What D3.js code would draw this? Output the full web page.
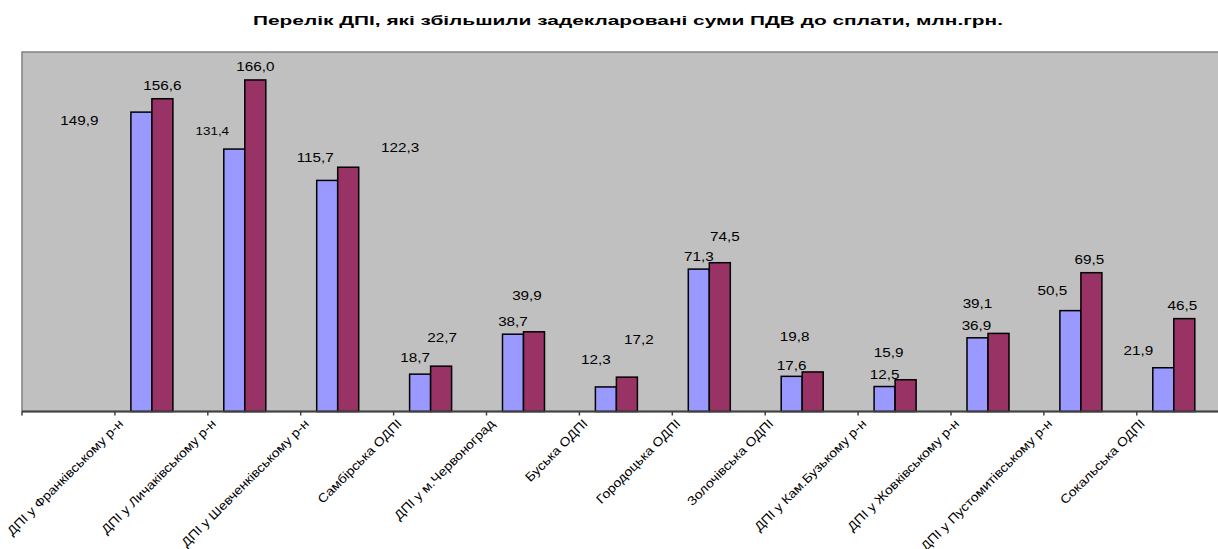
<!DOCTYPE html>
<html>
<head>
<meta charset="utf-8">
<script src="https://cdn.jsdelivr.net/npm/d3@7"></script>
<style>
body{margin:0;background:#fff;}
text{font-family:"Liberation Sans",Arial,sans-serif;fill:#000;}
</style>
</head>
<body>
<div id="chart"></div>
<script>
var w=1218
var h=549

// categories (DPI names) and the two series, mln UAH
var categories=["ДПІ у Франківському р-н","ДПІ у Личаківському р-н","ДПІ у Шевченківському р-н","Самбірська ОДПІ","ДПІ у м.Червоноград","Буська ОДПІ","Городоцька ОДПІ","Золочівська ОДПІ","ДПІ у Кам.Бузькому р-н","ДПІ у Жовківському р-н","ДПІ у Пустомитівському р-н","Сокальська ОДПІ"];
var series1=[149.9,131.4,115.7,18.7,38.7,12.3,71.3,17.6,12.5,36.9,50.5,21.9];
var series2=[156.6,166.0,122.3,22.7,39.9,17.2,74.5,19.8,15.9,39.1,69.5,46.5];

// labels were dragged around in the original, nudges in px from the default spot
var nudge1=[[-62,18],[-22,-9],[-12,-13],[-5,-7],[0,-3],[-10,-18],[0,-3],[0,-1],[0,-3],[-1,-3],[-18,-11],[-25,-8]];
var nudge2=[[0,-4],[0,-4],[52,-10],[1,-19],[-7,-27],[12,-28],[5,-17],[-18,-26],[-17,-18],[-21,-20],[-2,-4],[-2,-4]];

var plotLeft=22, plotTop=52, base=411.5, bandW=92.9;
var barW=21, barOff=16;
var fmt=function(v){return d3.format(".1f")(v).replace(".",",");};

//the source picture is stretched sideways, so text gets widened a bit
var widen=function(sel,k){
    sel.each(function(){
        var len=this.getComputedTextLength();
        d3.select(this).attr("textLength",len*k).attr("lengthAdjust","spacingAndGlyphs");
    });
};

var svg=d3.select("#chart")
          .append("svg")
          .attr("width",w)
          .attr("height",h);

// first slot of the axis is empty in the original
var slots=["_empty"].concat(categories);
var xScale=d3.scaleBand()
             .domain(slots)
             .range([plotLeft,plotLeft+bandW*slots.length])
             .padding(0);

var yScale=d3.scaleLinear()
             .domain([0,180])
             .range([base,plotTop]);

//Plot area
svg.append("rect")
   .attr("x",plotLeft)
   .attr("y",plotTop)
   .attr("width",w-plotLeft+10)
   .attr("height",base-plotTop)
   .attr("fill","#c0c0c0")
   .attr("stroke","#808080")
   .attr("stroke-width",1.5);

//Bars
var groups=svg.append("g")
              .attr("class","bars")
              .selectAll("g")
              .data(categories)
              .enter()
              .append("g");

groups.append("rect")
      .attr("x",function(d){return xScale(d)+barOff;})
      .attr("y",function(d,i){return yScale(series1[i]);})
      .attr("width",barW)
      .attr("height",function(d,i){return base-yScale(series1[i]);})
      .attr("fill","#9999ff")
      .attr("stroke","#000")
      .attr("stroke-width",1.5);

groups.append("rect")
      .attr("x",function(d){return xScale(d)+barOff+barW;})
      .attr("y",function(d,i){return yScale(series2[i]);})
      .attr("width",barW)
      .attr("height",function(d,i){return base-yScale(series2[i]);})
      .attr("fill","#993366")
      .attr("stroke","#000")
      .attr("stroke-width",1.5);

//Value labels
var lab1=groups.append("text")
      .attr("x",function(d,i){return xScale(d)+barOff+barW/2+nudge1[i][0];})
      .attr("y",function(d,i){return yScale(series1[i])-9+nudge1[i][1];})
      .attr("text-anchor","middle")
      .attr("dominant-baseline","central")
      .style("font-size",function(d,i){return i==1?"11px":"12.5px";})
      .text(function(d,i){return fmt(series1[i]);});

var lab2=groups.append("text")
      .attr("x",function(d,i){return xScale(d)+barOff+barW*1.5+nudge2[i][0];})
      .attr("y",function(d,i){return yScale(series2[i])-9+nudge2[i][1];})
      .attr("text-anchor","middle")
      .attr("dominant-baseline","central")
      .style("font-size","12.5px")
      .text(function(d,i){return fmt(series2[i]);});
widen(lab1,1.22);
widen(lab2,1.22);

//Category axis
var axis=svg.append("g").attr("class","x-axis");
axis.append("line")
    .attr("x1",plotLeft)
    .attr("x2",w)
    .attr("y1",base)
    .attr("y2",base)
    .attr("stroke","#404040")
    .attr("stroke-width",2);

axis.selectAll(".tick")
    .data(slots)
    .enter()
    .append("line")
    .attr("x1",function(d){return xScale(d);})
    .attr("x2",function(d){return xScale(d);})
    .attr("y1",base)
    .attr("y2",base+4)
    .attr("stroke","#404040")
    .attr("stroke-width",1.5);

var cats=axis.selectAll(".cat")
    .data(categories)
    .enter()
    .append("text")
    .attr("text-anchor","end")
    .style("font-size","12.5px")
    .attr("transform",function(d){return "translate("+(xScale(d)+9)+","+(base+13)+") rotate(-45)";})
    .text(function(d){return d;});
widen(cats,1.12);

//Title
var title=svg.append("text")
   .attr("x",628)
   .attr("y",25)
   .attr("text-anchor","middle")
   .style("font-size","13px")
   .style("font-weight","bold")
   .text("Перелік ДПІ, які збільшили задекларовані суми ПДВ до сплати, млн.грн.");
title.attr("textLength",750).attr("lengthAdjust","spacingAndGlyphs");
</script>
</body>
</html>
